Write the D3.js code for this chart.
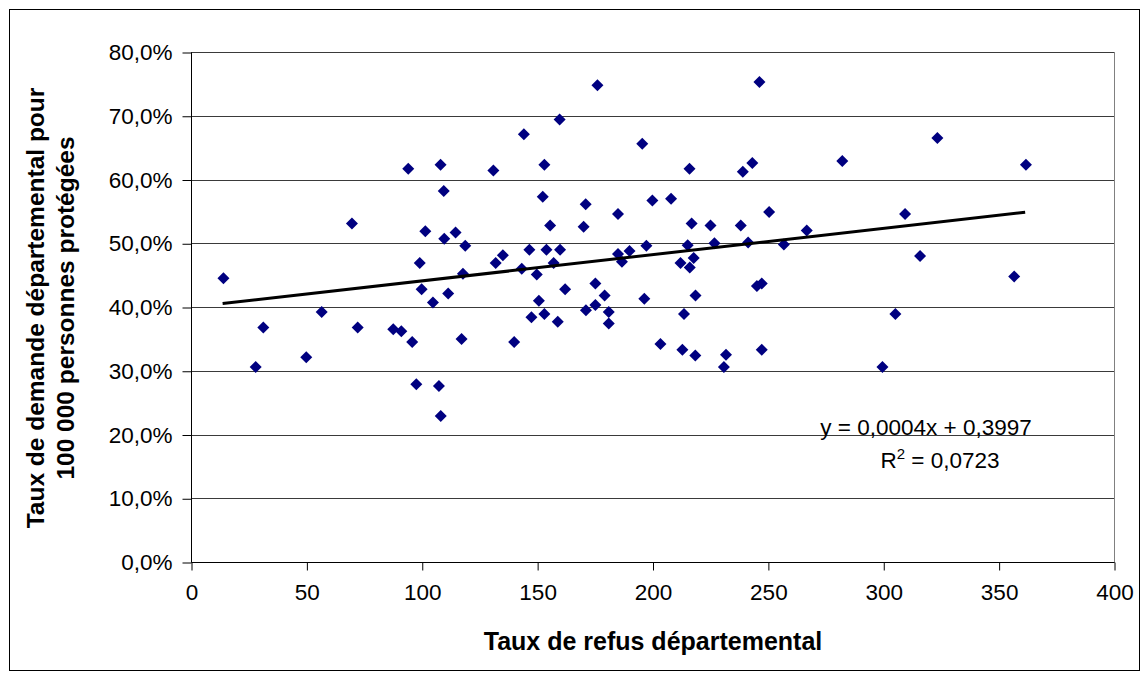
<!DOCTYPE html>
<html>
<head>
<meta charset="utf-8">
<script src="https://cdn.jsdelivr.net/npm/d3@7"></script>
<style>
  html, body { margin: 0; padding: 0; background: #fff; }
  svg { display: block; font-family: "Liberation Sans", Arial, sans-serif; }
</style>
</head>
<body>
<svg id="chart" width="1148" height="677"></svg>
<script>
// ---- Data ----
const refusRate = [
  13.7, 27.7, 31.0, 49.6, 56.3, 69.4, 71.9, 87.3, 90.8, 93.8,
  95.5, 97.3, 98.8, 99.6, 101.2, 104.5, 107.1, 107.8, 107.9, 109.2,
  109.4, 111.1, 114.3, 116.9, 117.5, 118.5, 130.7, 131.7, 134.8, 139.7,
  143.0, 143.9, 146.3, 147.2, 149.5, 150.4, 152.1, 152.8, 152.8, 153.7,
  155.3, 156.8, 158.6, 159.4, 159.6, 161.8, 169.8, 170.7, 170.8, 174.9,
  174.9, 175.8, 178.9, 180.7, 180.7, 184.7, 184.7, 186.4, 189.7, 195.2,
  196.1, 197.0, 199.6, 203.1, 207.7, 211.8, 212.6, 213.3, 214.9, 215.7,
  215.8, 216.6, 217.5, 218.2, 218.3, 224.8, 226.5, 230.6, 231.5, 237.9,
  238.8, 241.1, 242.9, 244.9, 246.0, 247.0, 247.0, 250.2, 256.6, 266.5,
  281.9, 299.3, 304.9, 309.1, 315.6, 323.1, 356.4, 361.5
];
const demandRate = [
  0.445, 0.306, 0.368, 0.321, 0.392, 0.531, 0.368, 0.365, 0.362, 0.617,
  0.345, 0.279, 0.469, 0.428, 0.519, 0.407, 0.276, 0.623, 0.229, 0.582,
  0.507, 0.421, 0.517, 0.350, 0.452, 0.496, 0.614, 0.469, 0.481, 0.345,
  0.460, 0.671, 0.490, 0.384, 0.451, 0.410, 0.573, 0.623, 0.389, 0.490,
  0.528, 0.469, 0.377, 0.694, 0.490, 0.428, 0.526, 0.561, 0.395, 0.437,
  0.403, 0.748, 0.418, 0.392, 0.374, 0.546, 0.483, 0.471, 0.488, 0.656,
  0.413, 0.496, 0.567, 0.342, 0.570, 0.469, 0.333, 0.389, 0.497, 0.617,
  0.462, 0.531, 0.477, 0.324, 0.418, 0.528, 0.500, 0.306, 0.325, 0.528,
  0.612, 0.501, 0.626, 0.433, 0.753, 0.437, 0.333, 0.549, 0.498, 0.520,
  0.629, 0.306, 0.389, 0.546, 0.480, 0.665, 0.448, 0.623
];
const xTicks = [0, 50, 100, 150, 200, 250, 300, 350, 400];
const yTicks = [0, 0.1, 0.2, 0.3, 0.4, 0.5, 0.6, 0.7, 0.8];
const xTitle = "Taux de refus départemental";
const yTitleLines = ["Taux de demande départemental pour", "100 000 personnes protégées"];
// trend coefficients (unrounded estimate of the displayed y = 0,0004x + 0,3997)
const trendSlope = 0.000412;
const trendIntercept = 0.3997;
const equationText = "y = 0,0004x + 0,3997";
const r2Text = "0,0723";

// ---- Layout ----
const svg = d3.select("#chart");
const plot = { left: 191, right: 1114, top: 52, bottom: 562 };
const x = d3.scaleLinear().domain([0, 400]).range([plot.left, plot.right]);
const y = d3.scaleLinear().domain([0, 0.8]).range([plot.bottom, plot.top]);

// Outer chart frame
svg.append("rect")
  .attr("x", 9.5).attr("y", 9.5).attr("width", 1130).attr("height", 661)
  .attr("fill", "#fff").attr("stroke", "#000").attr("stroke-width", 1);

// Plot area border (grey)
svg.append("rect")
  .attr("x", plot.left + 0.5).attr("y", plot.top + 0.5)
  .attr("width", plot.right - plot.left).attr("height", plot.bottom - plot.top)
  .attr("fill", "#fff").attr("stroke", "#808080").attr("stroke-width", 1);

// Horizontal gridlines
svg.append("g").selectAll("line").data(yTicks.slice(1)).join("line")
  .attr("x1", plot.left).attr("x2", plot.right)
  .attr("y1", d => Math.round(y(d)) + 0.5).attr("y2", d => Math.round(y(d)) + 0.5)
  .attr("stroke", "#3a3a3a").attr("stroke-width", 1);

const fmtPct = d => d3.format(".1f")(d * 100).replace(".", ",") + "%";

// Y axis
const yAxis = d3.axisLeft(y).tickValues(yTicks).tickFormat(fmtPct).tickSize(9).tickPadding(10);
const gy = svg.append("g").attr("transform", `translate(${plot.left + 0.5},0.5)`).call(yAxis);
gy.select(".domain").attr("stroke", "#000").attr("d", `M-0,${plot.top}V${plot.bottom}`);
gy.selectAll(".tick line").attr("stroke", "#000");
gy.selectAll(".tick text").attr("font-family", "Liberation Sans, Arial, sans-serif")
  .attr("font-size", 22.5).attr("fill", "#000");

// X axis
const xAxis = d3.axisBottom(x).tickValues(xTicks).tickFormat(d3.format("d")).tickSize(8).tickPadding(14);
const gx = svg.append("g").attr("transform", `translate(0.5,${plot.bottom + 0.5})`).call(xAxis);
gx.select(".domain").attr("stroke", "#000").attr("d", `M${plot.left},0H${plot.right}`);
gx.selectAll(".tick line").attr("stroke", "#000");
gx.selectAll(".tick text").attr("font-family", "Liberation Sans, Arial, sans-serif")
  .attr("font-size", 22.5).attr("fill", "#000");

// Points (diamonds)
const r = 6;
const diamond = `M0,${-r}L${r},0L0,${r}L${-r},0Z`;
svg.append("g").selectAll("path").data(refusRate.map((v, i) => [v, demandRate[i]])).join("path")
  .attr("d", diamond)
  .attr("transform", d => `translate(${x(d[0]) + 0.8},${y(d[1])})`)
  .attr("fill", "#000080");

// Trendline across the data range
const xMin = d3.min(refusRate), xMax = d3.max(refusRate);
svg.append("line")
  .attr("x1", x(xMin)).attr("y1", y(trendSlope * xMin + trendIntercept))
  .attr("x2", x(xMax)).attr("y2", y(trendSlope * xMax + trendIntercept))
  .attr("stroke", "#000").attr("stroke-width", 3);

// Equation labels
svg.append("text").attr("x", 926).attr("y", 435).attr("text-anchor", "middle")
  .attr("font-size", 22.5).attr("fill", "#000").text(equationText);
const r2 = svg.append("text").attr("x", 940).attr("y", 468).attr("text-anchor", "middle")
  .attr("font-size", 22.5).attr("fill", "#000");
r2.append("tspan").text("R");
r2.append("tspan").attr("dy", -9).attr("font-size", 15).text("2");
r2.append("tspan").attr("dy", 9).text(" = " + r2Text);

// Axis titles
svg.append("text").attr("x", 653).attr("y", 650).attr("text-anchor", "middle")
  .attr("font-weight", "bold").attr("font-size", 25).attr("fill", "#000").text(xTitle);

const yt = svg.append("text").attr("transform", "translate(44,308) rotate(-90)")
  .attr("text-anchor", "middle").attr("font-weight", "bold").attr("font-size", 24.5).attr("fill", "#000");
yt.selectAll("tspan").data(yTitleLines).join("tspan")
  .attr("x", 0).attr("dy", (d, i) => i === 0 ? 0 : 30).text(d => d);
</script>
</body>
</html>
